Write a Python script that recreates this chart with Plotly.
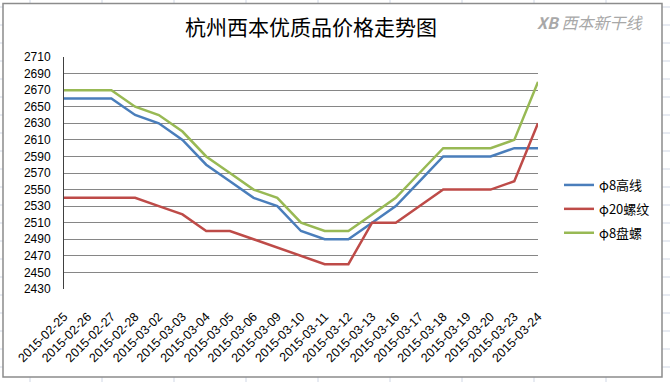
import plotly.graph_objects as go

dates = ["2015-02-25", "2015-02-26", "2015-02-27", "2015-02-28", "2015-03-02",
         "2015-03-03", "2015-03-04", "2015-03-05", "2015-03-06", "2015-03-09",
         "2015-03-10", "2015-03-11", "2015-03-12", "2015-03-13", "2015-03-16",
         "2015-03-17", "2015-03-18", "2015-03-19", "2015-03-20", "2015-03-23",
         "2015-03-24"]
gaoxian = [2660, 2660, 2660, 2640, 2630, 2610, 2580, 2560, 2540, 2530, 2500,
           2490, 2490, 2510, 2530, 2560, 2590, 2590, 2590, 2600, 2600]
luowen = [2540, 2540, 2540, 2540, 2530, 2520, 2500, 2500, 2490, 2480, 2470,
          2460, 2460, 2510, 2510, 2530, 2550, 2550, 2550, 2560, 2630]
panluo = [2670, 2670, 2670, 2650, 2640, 2620, 2590, 2570, 2550, 2540, 2510,
          2500, 2500, 2520, 2540, 2570, 2600, 2600, 2600, 2610, 2680]
series_names = ["φ8高线", "φ20螺纹", "φ8盘螺"]
y_ticks = list(range(2430, 2711, 20))

W, H = 670, 382
L, R, T, B = 64, 538, 57, 289
PW, PH = R - L, B - T


def px(x):
    return (x - L) / PW


def py(y):
    return (B - y) / PH


colors = ["#4A7EBB", "#BE4B48", "#98B954"]
fig = go.Figure()
for name, vals, c in zip(series_names, [gaoxian, luowen, panluo], colors):
    fig.add_trace(go.Scatter(
        x=list(range(len(dates))), y=vals, mode="lines", name=name,
        legendgroup=name,
        line=dict(color=c, width=2.5), hoverinfo="skip"))

shapes = []
cell = "#D0D7E5"
for x in range(30, 700, 72):
    shapes.append(dict(type="line", xref="paper", yref="paper", layer="below",
                       x0=px(x), x1=px(x), y0=py(0), y1=py(W),
                       line=dict(color=cell, width=1)))
for y in range(7, 400, 18):
    shapes.append(dict(type="line", xref="paper", yref="paper", layer="below",
                       x0=px(-10), x1=px(700), y0=py(y), y1=py(y),
                       line=dict(color=cell, width=1)))
shapes.append(dict(type="rect", xref="paper", yref="paper", layer="below",
                   x0=px(3), x1=px(662), y0=py(377), y1=py(3.5),
                   fillcolor="white", line=dict(color="#8C8C8C", width=1.5)))

fig.update_layout(
    width=W, height=H,
    margin=dict(l=L, r=W - R, t=T, b=H - B, pad=0, autoexpand=False),
    paper_bgcolor="white", plot_bgcolor="rgba(0,0,0,0)",
    shapes=shapes,
    showlegend=True,
    legend=dict(x=px(559), y=py(170), xanchor="left", yanchor="top",
                font=dict(family="Noto Sans CJK SC", size=13, color="black"),
                traceorder="grouped", tracegroupgap=4,
                bgcolor="rgba(0,0,0,0)", itemwidth=30),
    annotations=[
        dict(text="杭州西本优质品价格走势图", xref="paper", yref="paper",
             x=px(311), y=py(26), xanchor="center", yanchor="middle",
             showarrow=False,
             font=dict(family="Noto Sans CJK SC", size=21, color="black")),
        dict(text="<i><b>XB</b> 西本新干线</i>", xref="paper", yref="paper",
             x=px(590), y=py(22), xanchor="center", yanchor="middle",
             showarrow=False,
             font=dict(family="Noto Sans CJK SC", size=16, color="#A8A8A8")),
    ],
    xaxis=dict(
        type="linear", range=[0, len(dates) - 1], automargin=False,
        tickmode="array", tickvals=list(range(len(dates))), ticktext=dates,
        tickangle=-45, showgrid=False, zeroline=False, showline=False,
        ticks="", ticklabelstandoff=17,
        tickfont=dict(family="Liberation Sans", size=12.5, color="black"),
    ),
    yaxis=dict(
        range=[2430, 2710], tickmode="array", tickvals=y_ticks, automargin=False,
        showgrid=True, gridcolor="#868686", gridwidth=1, zeroline=False,
        showline=True, linecolor="#404040", linewidth=1, mirror=False,
        ticks="", ticklabelstandoff=10,
        tickfont=dict(family="Liberation Sans", size=12, color="black"),
    ),
)

fig.write_html("out.html", config={"displayModeBar": False},
               post_script="document.body.style.margin='0';")
